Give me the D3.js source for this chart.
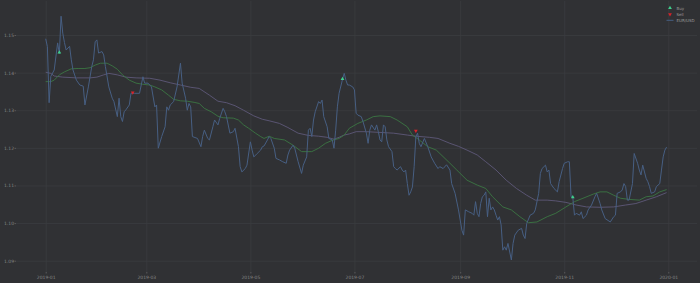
<!DOCTYPE html>
<html><head><meta charset="utf-8">
<script src="https://cdn.jsdelivr.net/npm/d3@7"></script>
<style>html,body{margin:0;padding:0;background:#303134;}svg{display:block;}</style>
</head><body>
<script>
// Day offsets from 2019-01-01 and EUR/USD close values
const priceDays = [0,1,2,3,5,7,8,9,10,11,12,14,15,16,18,20,22,23,25,27,28,29,30,31,33,34,35,37,39,40,42,43,44,45,46,47,49,50,52,55,57,58,60,62,64,65,66,68,70,71,72,73,75,77,79,80,82,83,84,85,86,89,91,92,93,95,96,98,99,101,102,104,105,106,108,110,111,113,114,115,117,118,120,121,122,124,126,127,128,130,131,132,134,135,137,139,141,142,143,145,146,148,150,151,153,154,155,156,157,158,160,161,162,163,165,166,168,169,170,171,172,174,175,176,177,178,180,181,182,183,185,186,188,189,190,191,193,194,195,196,197,198,199,200,201,203,204,205,206,208,209,210,211,212,213,214,215,216,217,218,219,220,222,224,226,228,230,231,233,235,237,238,240,242,244,245,246,248,250,251,252,253,254,255,256,257,258,259,260,261,262,263,264,265,266,267,268,269,270,271,273,274,275,277,279,280,281,282,284,286,287,289,290,291,293,294,295,296,298,300,301,303,304,306,307,308,309,310,311,313,314,315,317,318,320,322,323,325,326,328,331,333,334,335,337,338,339,340,341,342,344,345,347,348,349,350,352,353,354,355,357,358,360,361,362,363,364];
const priceValues = [1.1490,1.1469,1.1320,1.1390,1.1407,1.1479,1.1450,1.1550,1.1505,1.1480,1.1460,1.1470,1.1434,1.1407,1.1380,1.1367,1.1364,1.1314,1.1362,1.1416,1.1434,1.1482,1.1487,1.1452,1.1456,1.1447,1.1416,1.1362,1.1332,1.1323,1.1283,1.1332,1.1283,1.1270,1.1296,1.1301,1.1314,1.1345,1.1345,1.1345,1.1389,1.1372,1.1372,1.1362,1.1309,1.1314,1.1199,1.1230,1.1256,1.1309,1.1300,1.1314,1.1323,1.1362,1.1425,1.1372,1.1332,1.1300,1.1318,1.1309,1.1230,1.1225,1.1203,1.1230,1.1247,1.1225,1.1221,1.1256,1.1274,1.1261,1.1278,1.1305,1.1296,1.1283,1.1239,1.1243,1.1252,1.1203,1.1150,1.1136,1.1145,1.1154,1.1216,1.1194,1.1176,1.1185,1.1194,1.1203,1.1205,1.1221,1.1230,1.1225,1.1199,1.1172,1.1168,1.1163,1.1159,1.1181,1.1194,1.1207,1.1199,1.1163,1.1132,1.1154,1.1176,1.1247,1.1252,1.1230,1.1274,1.1296,1.1323,1.1318,1.1327,1.1283,1.1256,1.1225,1.1221,1.1199,1.1247,1.1309,1.1345,1.1382,1.1398,1.1380,1.1367,1.1367,1.1362,1.1354,1.1292,1.1287,1.1283,1.1270,1.1239,1.1212,1.1247,1.1261,1.1247,1.1261,1.1243,1.1221,1.1216,1.1261,1.1256,1.1221,1.1203,1.1190,1.1150,1.1145,1.1141,1.1150,1.1141,1.1136,1.1141,1.1105,1.1074,1.1083,1.1096,1.1150,1.1230,1.1239,1.1212,1.1203,1.1225,1.1203,1.1176,1.1159,1.1145,1.1150,1.1145,1.1155,1.1141,1.1105,1.1079,1.1035,1.0981,1.0968,1.1035,1.1030,1.1026,1.1021,1.1057,1.1026,1.1017,1.1052,1.1070,1.1074,1.1083,1.1017,1.1066,1.1035,1.1043,1.1035,1.1021,1.1008,1.1017,1.0995,1.0928,1.0937,1.0928,1.0946,1.0902,1.0946,1.0968,1.0981,1.0986,1.0968,1.0959,1.0999,1.1021,1.1026,1.1035,1.1079,1.1132,1.1145,1.1154,1.1136,1.1141,1.1105,1.1092,1.1083,1.1110,1.1145,1.1159,1.1163,1.1163,1.1070,1.1069,1.1021,1.1026,1.1021,1.1030,1.1012,1.1021,1.1035,1.1048,1.1070,1.1079,1.1052,1.1035,1.1012,1.1003,1.1017,1.1021,1.1079,1.1083,1.1088,1.1105,1.1097,1.1061,1.1061,1.1105,1.1185,1.1159,1.1141,1.1128,1.1154,1.1119,1.1110,1.1097,1.1079,1.1083,1.1097,1.1105,1.1141,1.1176,1.1194,1.1202];

const shortMaDays = [0,3,5,8,11,15,19,23,26,29,32,36,39,42,45,49,53,57,61,64,68,72,75,79,83,87,90,93,97,101,104,110,113,116,119,123,126,128,131,134,140,145,150,156,160,164,168,172,175,178,183,188,192,196,202,206,212,215,219,224,229,237,241,247,253,258,262,268,273,278,283,288,294,299,305,310,315,321,325,329,333,337,342,348,352,356,360,364];
const shortMaValues = [1.1376,1.1376,1.1380,1.1394,1.1402,1.1410,1.1411,1.1411,1.1413,1.1420,1.1425,1.1425,1.1418,1.1409,1.1394,1.1380,1.1372,1.1369,1.1367,1.1362,1.1354,1.1340,1.1329,1.1325,1.1324,1.1321,1.1318,1.1305,1.1296,1.1284,1.1280,1.1279,1.1274,1.1261,1.1252,1.1239,1.1230,1.1225,1.1231,1.1225,1.1221,1.1207,1.1190,1.1190,1.1199,1.1212,1.1220,1.1225,1.1234,1.1252,1.1265,1.1274,1.1283,1.1285,1.1283,1.1274,1.1256,1.1234,1.1221,1.1203,1.1194,1.1159,1.1141,1.1114,1.1101,1.1092,1.1070,1.1043,1.1035,1.1017,1.1001,1.1003,1.1017,1.1026,1.1043,1.1057,1.1066,1.1077,1.1083,1.1083,1.1074,1.1066,1.1063,1.1061,1.1070,1.1072,1.1083,1.1089];

const longMaDays = [0,3,5,10,18,26,30,34,37,42,47,53,61,67,73,79,85,90,96,101,106,111,116,122,127,131,137,142,148,154,160,165,169,172,175,178,182,188,196,204,212,217,225,230,237,242,247,253,258,264,270,276,282,287,294,299,305,311,317,325,333,340,346,352,358,364];
const longMaValues = [1.1401,1.1398,1.1391,1.1388,1.1386,1.1386,1.1388,1.1394,1.1398,1.1394,1.1388,1.1386,1.1385,1.1380,1.1373,1.1367,1.1361,1.1358,1.1340,1.1324,1.1320,1.1312,1.1300,1.1285,1.1276,1.1272,1.1265,1.1254,1.1239,1.1233,1.1231,1.1228,1.1223,1.1228,1.1234,1.1237,1.1243,1.1243,1.1241,1.1239,1.1234,1.1231,1.1228,1.1225,1.1212,1.1204,1.1194,1.1181,1.1163,1.1141,1.1114,1.1092,1.1074,1.1061,1.1061,1.1059,1.1055,1.1048,1.1043,1.1042,1.1043,1.1048,1.1052,1.1061,1.1070,1.1081];

const buyDays = [8,174,309];
const buyValues = [1.1454,1.1383,1.1069];
const sellDays = [51,217];
const sellValues = [1.1347,1.1245];

const yTicks = [1.09,1.10,1.11,1.12,1.13,1.14,1.15];
const xTickLabels = ["2019-01","2019-03","2019-05","2019-07","2019-09","2019-11","2020-01"];
const legendLabels = ["Buy","Sell","EUR/USD"];

const W = 700, H = 283;
const base = new Date(2019,0,1);
const toDate = d => d3.timeDay.offset(base, d);
const parseMonth = d3.timeParse("%Y-%m");

const svg = d3.select("body").append("svg").attr("width",W).attr("height",H)
  .style("background","#303134");

const plot = {left:16, right:697, top:1, bottom:272};

const x = d3.scaleTime().domain([new Date(2019,0,1), new Date(2020,0,1)]).range([45.7, 668.3]);
const y = d3.scaleLinear().domain([1.09, 1.15]).range([260.7, 35]);

const gridColor = "#3b3c40";
const textColor = "#858585";

// horizontal grid + y axis
const yAxis = d3.axisLeft(y).tickValues(yTicks).tickFormat(d3.format(".2f"))
  .tickSize(-(plot.right-plot.left)).tickPadding(2);
const gy = svg.append("g").attr("transform",`translate(${plot.left},0)`).call(yAxis);
gy.select(".domain").remove();
gy.selectAll(".tick line").attr("stroke",gridColor).attr("stroke-width",0.8);
gy.selectAll(".tick text").attr("fill",textColor).style("font-family","DejaVu Sans").style("font-size","4.5px");
gy.selectAll(".tick").append("line").attr("x1",-1.5).attr("x2",0).attr("stroke",textColor).attr("stroke-width",0.5);

// vertical grid + x axis
const xDates = xTickLabels.map(parseMonth);
const xAxis = d3.axisBottom(x).tickValues(xDates).tickFormat(d3.timeFormat("%Y-%m"))
  .tickSize(-(plot.bottom-plot.top)).tickPadding(4);
const gx = svg.append("g").attr("transform",`translate(0,${plot.bottom})`).call(xAxis);
gx.select(".domain").remove();
gx.selectAll(".tick line").attr("stroke",gridColor).attr("stroke-width",0.8);
gx.selectAll(".tick text").attr("fill",textColor).style("font-family","DejaVu Sans").style("font-size","4.5px");
gx.selectAll(".tick").append("line").attr("y1",0).attr("y2",1.5).attr("stroke",textColor).attr("stroke-width",0.5);

const line = d3.line().x(d=>x(toDate(d[0]))).y(d=>y(d[1]));
const zip = (a,b) => a.map((d,i)=>[d,b[i]]);

svg.append("path").datum(zip(longMaDays,longMaValues)).attr("d",line)
  .attr("fill","none").attr("stroke","#5e5878").attr("stroke-width",0.9);
svg.append("path").datum(zip(shortMaDays,shortMaValues)).attr("d",line)
  .attr("fill","none").attr("stroke","#3b7643").attr("stroke-width",0.9);
svg.append("path").datum(zip(priceDays,priceValues)).attr("d",line)
  .attr("fill","none").attr("stroke","#475f83").attr("stroke-width",1);

const tri = d3.symbol().type(d3.symbolTriangle).size(6);
svg.selectAll(".buy").data(zip(buyDays,buyValues)).join("path").attr("class","buy")
  .attr("d",tri).attr("transform",d=>`translate(${x(toDate(d[0]))},${y(d[1])})`)
  .attr("fill","#3fcf8c");
svg.selectAll(".sell").data(zip(sellDays,sellValues)).join("path").attr("class","sell")
  .attr("d",tri).attr("transform",d=>`translate(${x(toDate(d[0]))},${y(d[1])}) rotate(180)`)
  .attr("fill","#d9232a");

// legend
const lg = svg.append("g").attr("transform","translate(670,8)");
lg.append("path").attr("d",tri).attr("fill","#3fcf8c");
lg.append("path").attr("d",tri).attr("transform","translate(0,6.3) rotate(180)").attr("fill","#d9232a");
lg.append("line").attr("x1",-3.5).attr("x2",3.5).attr("y1",12.3).attr("y2",12.3).attr("stroke","#475f83").attr("stroke-width",1);
lg.selectAll("text").data(legendLabels).join("text")
  .attr("x",6.5).attr("y",(d,i)=>i*6.2+1.5).text(d=>d)
  .attr("fill","#9a9a9a").style("font-family","DejaVu Sans").style("font-size","4px");
</script>
</body></html>
